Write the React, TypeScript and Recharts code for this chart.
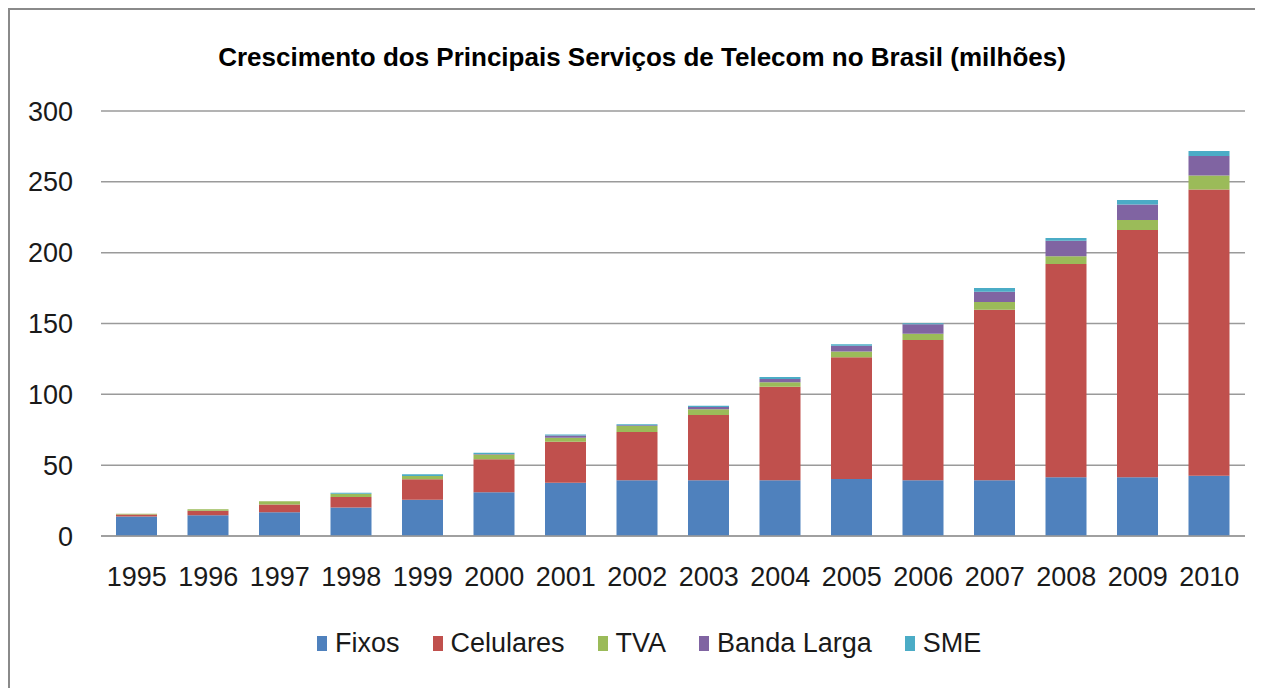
import React from "react";
import { BarChart, Bar, XAxis, YAxis, CartesianGrid, Legend } from "recharts";

const years = ["1995","1996","1997","1998","1999","2000","2001","2002","2003","2004","2005","2006","2007","2008","2009","2010"];
const fixos = [13.8,14.6,16.7,20.2,25.6,30.8,37.6,39.3,39.3,39.3,40.2,39.3,39.3,41.4,41.4,42.6];
const celulares = [1.3,3.3,5.5,7.3,14.4,23.3,29.0,34.1,46.1,66.1,85.9,99.0,120.4,150.6,174.6,202.0];
const tva = [0.6,0.9,2.3,2.4,2.3,3.5,2.8,4.2,4.0,3.1,4.2,4.5,5.4,5.4,7.0,9.8];
const bandaLarga = [0,0,0,0,0.1,0.2,1.5,0.5,1.6,2.3,4.0,6.6,7.3,11.0,11.0,13.9];
const sme = [0,0,0,0.6,1.2,1.0,0.7,0.7,0.9,1.4,1.0,0.7,2.6,1.9,3.1,3.4];
const yTicks = [0,50,100,150,200,250,300];
const title = "Crescimento dos Principais Serviços de Telecom no Brasil (milhões)";

const series = [
  { key: "Fixos", values: fixos, color: "#4F81BD" },
  { key: "Celulares", values: celulares, color: "#C0504D" },
  { key: "TVA", values: tva, color: "#9BBB59" },
  { key: "Banda Larga", values: bandaLarga, color: "#8064A2" },
  { key: "SME", values: sme, color: "#4BACC6" },
];

const data = years.map((y, i) => {
  const row: Record<string, any> = { year: y };
  series.forEach((s) => (row[s.key] = s.values[i]));
  return row;
});

const FONT = "'Liberation Sans', Arial, sans-serif";

const renderLegend = () => (
  <div style={{ display: "flex", justifyContent: "flex-start", paddingLeft: 307, fontFamily: FONT, fontSize: 27, color: "#1a1a1a" }}>
    {series.map((s) => (
      <div key={s.key} style={{ display: "flex", alignItems: "center", marginRight: 33 }}>
        <span style={{ display: "inline-block", width: 10, height: 15, background: s.color, marginRight: 8 }} />
        <span style={{ lineHeight: "32px" }}>{s.key}</span>
      </div>
    ))}
  </div>
);

export default function App() {
  return (
    <div style={{ position: "relative", width: 1300, height: 720, boxSizing: "border-box", borderLeft: "2px solid #8a8a8a", borderTop: "2px solid #8a8a8a", overflow: "hidden", background: "#fff" }}>
      <style>{"html{overflow:hidden;}"}</style>
      <div style={{ position: "absolute", left: 0, top: 30, width: 1264, textAlign: "center", fontFamily: FONT, fontWeight: "bold", fontSize: 26, lineHeight: "34px", color: "#000" }}>
        {title}
      </div>
      <BarChart width={1245} height={670} data={data} margin={{ top: 101, right: 10, left: 0, bottom: 94 }}>
        <CartesianGrid vertical={false} stroke="#9a9a9a" strokeWidth={1.5} />
        <XAxis dataKey="year" height={50} axisLine={{ stroke: "#9a9a9a", strokeWidth: 1.5 }} tickLine={false} tickMargin={25} tick={{ fontFamily: FONT, fontSize: 27, fill: "#1a1a1a" }} interval={0} />
        <YAxis width={91} domain={[0, 300]} ticks={yTicks} axisLine={false} tickLine={false} tickMargin={22} tick={{ fontFamily: FONT, fontSize: 27, fill: "#1a1a1a" }} />
        <Legend verticalAlign="middle" layout="horizontal" align="center" wrapperStyle={{ top: 617, left: 0, width: 1245 }} content={renderLegend} />
        {series.map((s) => (
          <Bar key={s.key} dataKey={s.key} stackId="a" fill={s.color} barSize={41} isAnimationActive={false} />
        ))}
      </BarChart>
    </div>
  );
}
